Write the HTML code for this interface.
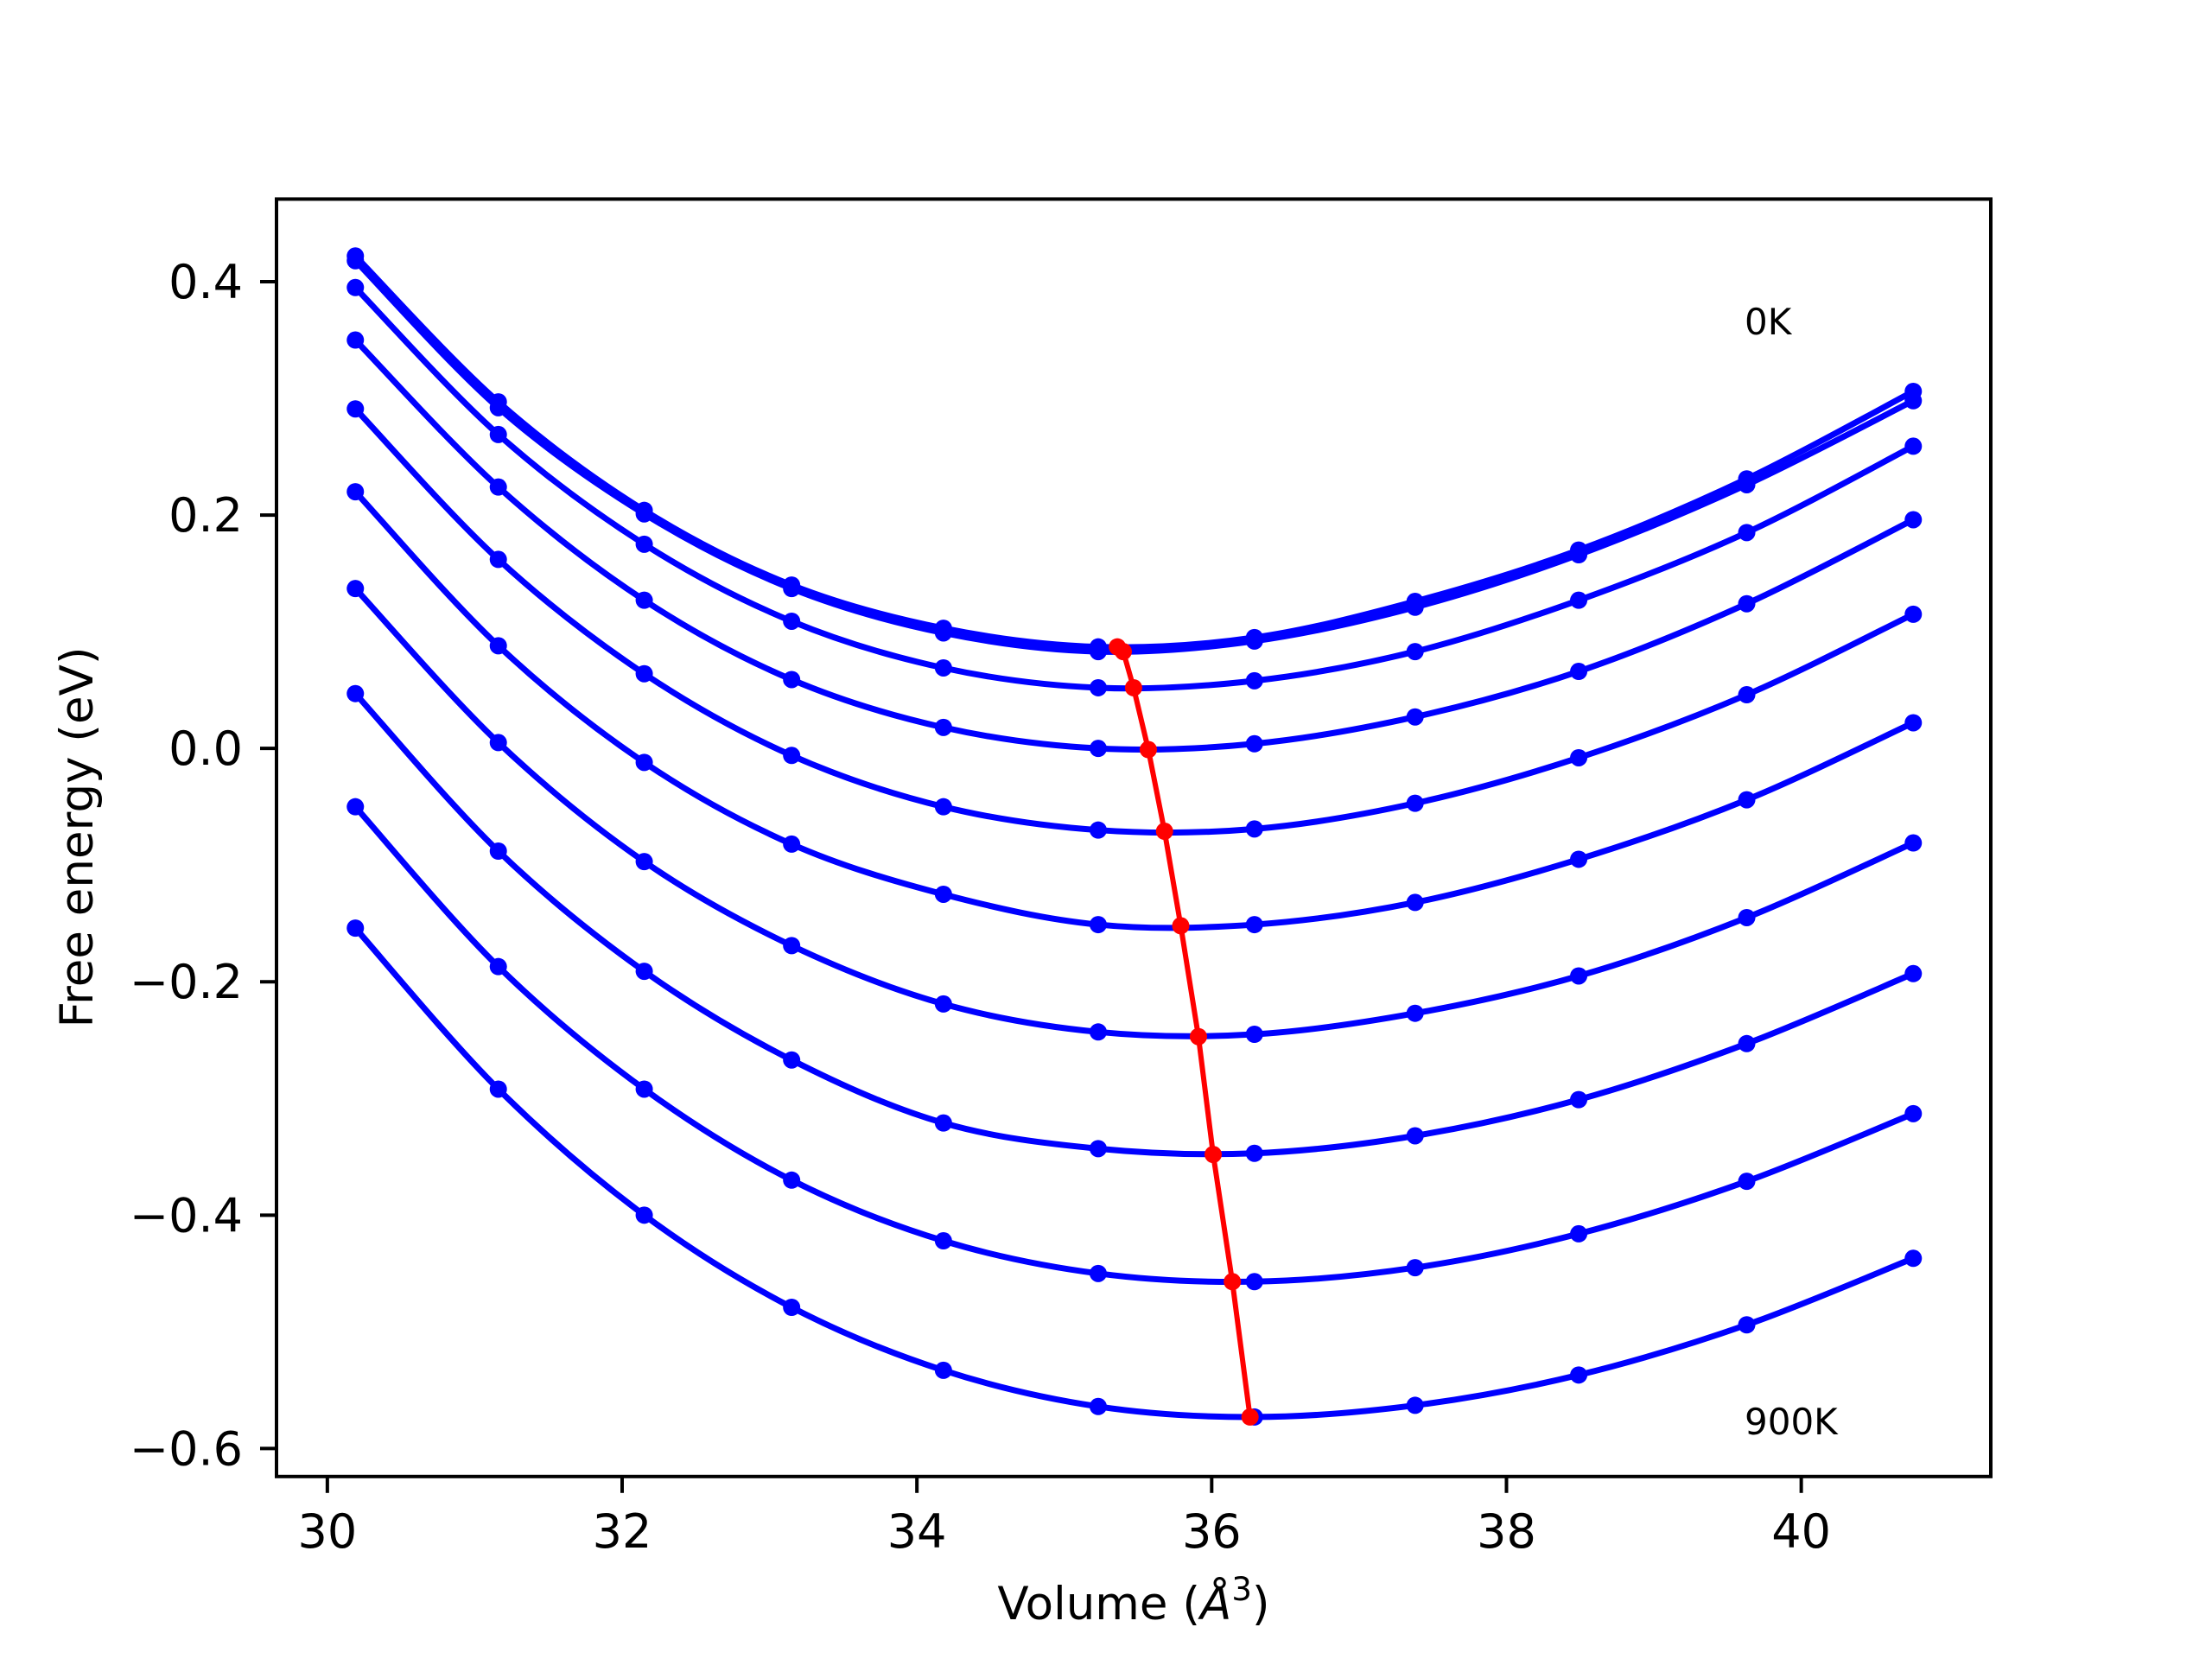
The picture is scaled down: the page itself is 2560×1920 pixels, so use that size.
<!DOCTYPE html>
<html><head><meta charset="utf-8"><style>
html,body{margin:0;padding:0;background:#fff;}
svg{display:block;font-family:"DejaVu Sans","Liberation Sans",sans-serif;}
</style></head><body>
<svg id="chart" width="2560" height="1920" viewBox="0 0 2560 1920">
<rect width="2560" height="1920" fill="#fff"/>
<g id="plot"></g>
<text x="2019" y="387" font-size="42">0K</text>
<text x="2019" y="1660" font-size="42">900K</text>
<text x="1312" y="1874" font-size="53" text-anchor="middle">Volume (<tspan font-style="italic">Å</tspan><tspan font-size="37" dy="-22">3</tspan><tspan dy="22">)</tspan></text>
<text transform="translate(107,969) rotate(-90)" font-size="53" text-anchor="middle">Free energy (eV)</text>
</svg>
<script>
const volumes = [30.19,31.16,32.15,33.15,34.18,35.23,36.29,37.38,38.49,39.63,40.76];
const energies = [
 [.422,.297,.204,.140,.103,.087,.095,.126,.170,.231,.306],
 [.418,.292,.201,.137,.099,.083,.092,.121,.166,.226,.298],
 [.395,.269,.175,.109,.069,.052,.058,.083,.127,.185,.259],
 [.350,.224,.127,.059,.018,.000,.004,.027,.066,.124,.196],
 [.291,.162,.064,-.006,-.050,-.070,-.069,-.047,-.008,.046,.115],
 [.220,.088,-.012,-.082,-.125,-.151,-.151,-.132,-.095,-.044,.022],
 [.137,.005,-.097,-.169,-.219,-.243,-.245,-.227,-.195,-.145,-.081],
 [.047,-.088,-.191,-.267,-.321,-.343,-.347,-.332,-.301,-.253,-.193],
 [-.050,-.187,-.292,-.370,-.422,-.450,-.457,-.445,-.416,-.371,-.313],
 [-.154,-.292,-.400,-.479,-.533,-.564,-.573,-.563,-.537,-.494,-.437]
];
const minVolumes = [35.36,35.40,35.47,35.57,35.68,35.79,35.91,36.01,36.14,36.26];
const minEnergies = [.087,.083,.052,-.001,-.071,-.152,-.247,-.348,-.457,-.573];
const xTicks = [30,32,34,36,38,40];
const yTicks = [0.4,0.2,0.0,-0.2,-0.4,-0.6];
const yTickLabels = ["0.4","0.2","0.0","\u22120.2","\u22120.4","\u22120.6"];

const L=320,R=2304,T=230.4,B=1708.8;
const xmin=29.655,xmax=41.286,ymin=-0.624,ymax=0.4708;
const sx=v=>L+(v-xmin)/(xmax-xmin)*(R-L);
const sy=v=>B-(v-ymin)/(ymax-ymin)*(B-T);
const NS="http://www.w3.org/2000/svg";
const g=document.getElementById('plot');
function mk(tag,attrs,parent){const e=document.createElementNS(NS,tag);for(const k in attrs)e.setAttribute(k,attrs[k]);(parent||g).appendChild(e);return e;}

function smoothPath(xs,ys){
  const p=xs.map((x,i)=>[sx(x),sy(ys[i])]);
  let d=`M${p[0][0]},${p[0][1]}`;
  for(let i=0;i<p.length-1;i++){
    const p0=p[i-1]||p[i],p1=p[i],p2=p[i+1],p3=p[i+2]||p[i+1];
    const c1=[p1[0]+(p2[0]-p0[0])/6,p1[1]+(p2[1]-p0[1])/6];
    const c2=[p2[0]-(p3[0]-p1[0])/6,p2[1]-(p3[1]-p1[1])/6];
    d+=` C${c1[0]},${c1[1]} ${c2[0]},${c2[1]} ${p2[0]},${p2[1]}`;
  }
  return d;
}

energies.forEach((row,ci)=>{
  const path=mk('path',{d:smoothPath(volumes,row),fill:'none',stroke:'#0000ff','stroke-width':7});
  
  
  row.forEach((v,i)=>{
    const c=mk('circle',{cx:sx(volumes[i]),cy:sy(v),r:10,fill:'#0000ff'});
    
    
  });
});
const redLine=mk('polyline',{points:minVolumes.map((x,i)=>sx(x)+','+sy(minEnergies[i])).join(' '),fill:'none',stroke:'#ff0000','stroke-width':6});


minVolumes.forEach((x,i)=>{
  const c=mk('circle',{cx:sx(x),cy:sy(minEnergies[i]),r:10,fill:'#ff0000'});
  
  
});
const frame=mk('rect',{x:L,y:T,width:R-L,height:B-T,fill:'none',stroke:'#000','stroke-width':4});


xTicks.forEach(t=>{
  const ln=mk('line',{x1:sx(t),x2:sx(t),y1:B,y2:B+19,stroke:'#000','stroke-width':4});
  
  
  const tx=mk('text',{x:sx(t),y:B+82,'font-size':54,'text-anchor':'middle'});
  tx.textContent=t;
  
  
});
yTicks.forEach((t,i)=>{
  const ln=mk('line',{x1:L-19,x2:L,y1:sy(t),y2:sy(t),stroke:'#000','stroke-width':4});
  
  
  const tx=mk('text',{x:L-39,y:sy(t)+19,'font-size':54,'text-anchor':'end'});
  tx.textContent=yTickLabels[i];
  
  
});
</script>
</body></html>
